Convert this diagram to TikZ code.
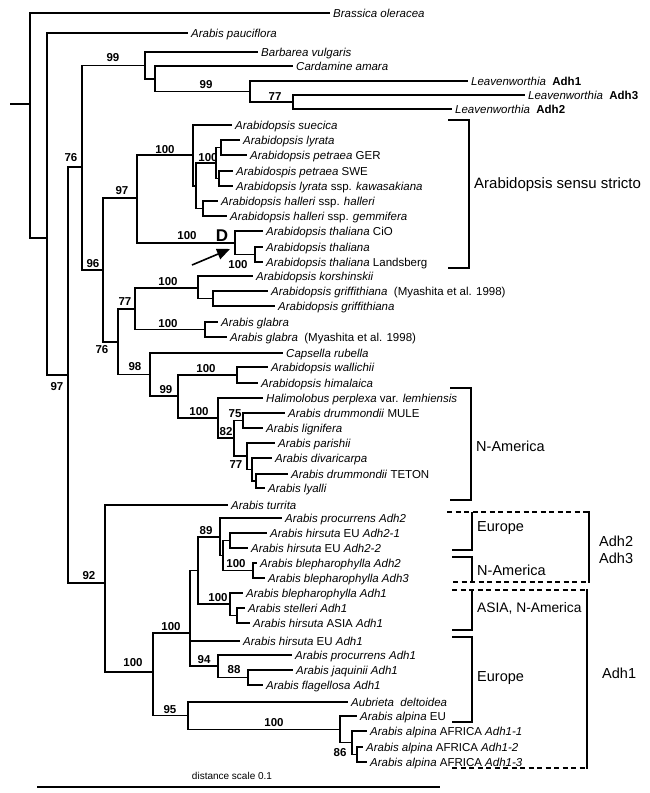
\documentclass[tikz,border=0pt]{standalone}
\usepackage{fontspec}
\setmainfont{Liberation Sans}
\usetikzlibrary{arrows.meta}
\tikzset{
    branch/.style={draw=black,line width=1.6pt},
    leaf/.style={anchor=west,inner xsep=3pt,inner ysep=0pt,text height=8.2pt,text depth=0pt,
        font=\fontsize{11.5}{12}\selectfont},
    boot/.style={inner sep=0pt,font=\fontsize{11.5}{12}\selectfont\bfseries},
    grp/.style={anchor=west,inner sep=0pt,align=left,font=\fontsize{14.5}{17}\selectfont},
    bracket/.style={draw=black,line width=1.7pt},
    dashbox/.style={draw=black,line width=1.7pt,dash pattern=on 5pt off 3.5pt},
    pointer/.style={-{Triangle[length=13pt,width=11pt]},line width=1.6pt}
}
\begin{document}
\begin{tikzpicture}[x=1pt,y=-1pt]
\useasboundingbox (0,0) rectangle (650,793);
% inner nodes of the tree
\coordinate (stub) at (10,104);
\coordinate (root) at (30,104);
\coordinate (npau) at (47,238);
\coordinate (n97a) at (68,375);
\coordinate (n76a) at (82,167);
\coordinate (n99a) at (145,65.5);
\coordinate (ncar) at (155,79);
\coordinate (n99b) at (250,91.5);
\coordinate (n77a) at (293,102);
\coordinate (n96) at (103,270);
\coordinate (n97b) at (137,198);
\coordinate (n100s) at (193,155);
\coordinate (nlh) at (196,186);
\coordinate (nlyr) at (216,163);
\coordinate (nlg) at (221,147.5);
\coordinate (nsk) at (219,178.5);
\coordinate (nhal) at (203,208.5);
\coordinate (nth) at (235,243);
\coordinate (nth2) at (255,254.5);
\coordinate (n76b) at (118,342);
\coordinate (n77b) at (135,309);
\coordinate (nkor) at (198,288);
\coordinate (ngri) at (213,298.5);
\coordinate (ngla) at (205,329.5);
\coordinate (n98) at (150,374.5);
\coordinate (n99c) at (178,396);
\coordinate (nwal) at (237,375);
\coordinate (nhp) at (218,418);
\coordinate (n82) at (234,438);
\coordinate (n75) at (243,420.5);
\coordinate (n77c) at (247,456);
\coordinate (ndiv) at (252,469.5);
\coordinate (ntet) at (256,481);
\coordinate (n92) at (105,583);
\coordinate (n100a) at (153,672);
\coordinate (n100b) at (190,633);
\coordinate (nadh2) at (198,570.5);
\coordinate (n89) at (220,537);
\coordinate (nhb) at (223,555.5);
\coordinate (nhir) at (230,540.5);
\coordinate (nble) at (253,570.5);
\coordinate (nasia) at (230,604);
\coordinate (nste) at (237,615.5);
\coordinate (n94) at (218,666);
\coordinate (n88) at (248,677.5);
\coordinate (n95) at (188,715.5);
\coordinate (nalp) at (340,729.5);
\coordinate (n86) at (352,742.5);
\coordinate (nafr) at (357,754.5);

% leaves
\node[leaf] (bo) at (330,13) {\textit{Brassica oleracea}};
\node[leaf] (ap) at (188,33) {\textit{Arabis pauciflora}};
\node[leaf] (bv) at (258,52) {\textit{Barbarea vulgaris}};
\node[leaf] (ca) at (293,66) {\textit{Cardamine amara}};
\node[leaf] (la1) at (468,81) {\textit{Leavenworthia}\ \ \textbf{Adh1}};
\node[leaf] (la3) at (525,95) {\textit{Leavenworthia}\ \ \textbf{Adh3}};
\node[leaf] (la2) at (452,109) {\textit{Leavenworthia}\ \ \textbf{Adh2}};
\node[leaf] (su) at (232,125) {\textit{Arabidopsis suecica}};
\node[leaf] (ly) at (240,140) {\textit{Arabidopsis lyrata}};
\node[leaf] (pg) at (247,155) {\textit{Arabidopsis petraea} GER};
\node[leaf] (ps) at (233,171) {\textit{Arabidospis petraea} SWE};
\node[leaf] (lk) at (233,186) {\textit{Arabidopsis lyrata} ssp. \textit{kawasakiana}};
\node[leaf] (hh) at (218,201) {\textit{Arabidopsis halleri} ssp. \textit{halleri}};
\node[leaf] (hg) at (227,216) {\textit{Arabidopsis halleri} ssp. \textit{gemmifera}};
\node[leaf] (tc) at (263,231) {\textit{Arabidopsis thaliana} CiO};
\node[leaf] (tt) at (263,247) {\textit{Arabidopsis thaliana}};
\node[leaf] (tl) at (263,262) {\textit{Arabidopsis thaliana} Landsberg};
\node[leaf] (ko) at (253,276) {\textit{Arabidopsis korshinskii}};
\node[leaf] (gm) at (268,291) {\textit{Arabidopsis griffithiana}\ \ (Myashita et al. 1998)};
\node[leaf] (gr) at (275,306) {\textit{Arabidopsis griffithiana}};
\node[leaf] (gl) at (218,322) {\textit{Arabis glabra}};
\node[leaf] (glm) at (227,337) {\textit{Arabis glabra}\ \ (Myashita et al. 1998)};
\node[leaf] (cr) at (283,353) {\textit{Capsella rubella}};
\node[leaf] (wa) at (268,367) {\textit{Arabidopsis wallichii}};
\node[leaf] (hi) at (258,383) {\textit{Arabidopsis himalaica}};
\node[leaf] (hp) at (263,398) {\textit{Halimolobus perplexa} var. \textit{lemhiensis}};
\node[leaf] (dm) at (285,413) {\textit{Arabis drummondii} MULE};
\node[leaf] (li) at (263,428) {\textit{Arabis lignifera}};
\node[leaf] (pa) at (275,443) {\textit{Arabis parishii}};
\node[leaf] (dv) at (272,458) {\textit{Arabis divaricarpa}};
\node[leaf] (dt) at (288,474) {\textit{Arabis drummondii} TETON};
\node[leaf] (lya) at (265,488) {\textit{Arabis lyalli}};
\node[leaf] (tu) at (228,505) {\textit{Arabis turrita}};
\node[leaf] (pr2) at (282,518) {\textit{Arabis procurrens Adh2}};
\node[leaf] (h21) at (267,533) {\textit{Arabis hirsuta} EU \textit{Adh2-1}};
\node[leaf] (h22) at (248,548) {\textit{Arabis hirsuta} EU \textit{Adh2-2}};
\node[leaf] (b2) at (257,563) {\textit{Arabis blepharophylla Adh2}};
\node[leaf] (b3) at (265,578) {\textit{Arabis blepharophylla Adh3}};
\node[leaf] (b1) at (243,593) {\textit{Arabis blepharophylla Adh1}};
\node[leaf] (st) at (245,608) {\textit{Arabis stelleri Adh1}};
\node[leaf] (ha) at (250,623) {\textit{Arabis hirsuta} ASIA \textit{Adh1}};
\node[leaf] (he) at (240,641) {\textit{Arabis hirsuta} EU \textit{Adh1}};
\node[leaf] (pr1) at (292,655) {\textit{Arabis procurrens Adh1}};
\node[leaf] (ja) at (293,670) {\textit{Arabis jaquinii Adh1}};
\node[leaf] (fl) at (263,685) {\textit{Arabis flagellosa Adh1}};
\node[leaf] (au) at (348,702) {\textit{Aubrieta\ \ deltoidea}};
\node[leaf] (ae) at (357,716) {\textit{Arabis alpina} EU};
\node[leaf] (af1) at (367,731) {\textit{Arabis alpina} AFRICA \textit{Adh1-1}};
\node[leaf] (af2) at (363,747) {\textit{Arabis alpina} AFRICA \textit{Adh1-2}};
\node[leaf] (af3) at (367,762) {\textit{Arabis alpina} AFRICA \textit{Adh1-3}};

% branches
\draw[branch] (stub) -- (root);
\foreach \a/\b in {root/npau,npau/n97a,n97a/n76a,n97a/n92,n76a/n99a,n76a/n96,n99a/ncar,
    ncar/n99b,n99b/n77a,n96/n97b,n96/n76b,n97b/n100s,n97b/nth,n100s/nlh,nlh/nlyr,nlh/nhal,
    nlyr/nlg,nlyr/nsk,nth/nth2,n76b/n77b,n76b/n98,n77b/nkor,n77b/ngla,nkor/ngri,n98/n99c,
    n99c/nwal,n99c/nhp,nhp/n82,n82/n75,n82/n77c,n77c/ndiv,ndiv/ntet,n92/n100a,n100a/n100b,
    n100a/n95,n100b/nadh2,n100b/n94,nadh2/n89,nadh2/nasia,n89/nhb,nhb/nhir,nhb/nble,
    nasia/nste,n94/n88,n95/nalp,nalp/n86,n86/nafr}
    \draw[branch] (\a) |- (\b);
\foreach \a/\b in {root/bo,npau/ap,n99a/bv,ncar/ca,n99b/la1,n77a/la3,n77a/la2,n100s/su,
    nlg/ly,nlg/pg,nsk/ps,nsk/lk,nhal/hh,nhal/hg,nth/tc,nth2/tt,nth2/tl,nkor/ko,ngri/gm,
    ngri/gr,ngla/gl,ngla/glm,n98/cr,nwal/wa,nwal/hi,nhp/hp,n75/dm,n75/li,n77c/pa,ndiv/dv,
    ntet/dt,ntet/lya,n92/tu,n89/pr2,nhir/h21,nhir/h22,nble/b2,nble/b3,nasia/b1,nste/st,
    nste/ha,n100b/he,n94/pr1,n88/ja,n88/fl,n95/au,nalp/ae,n86/af1,nafr/af2,nafr/af3}
    \draw[branch] (\a) |- (\b.west);

% bootstrap values
\node[boot] (bs99a) at (113,58) {99};
\node[boot] (bs99b) at (206,85) {99};
\node[boot] (bs77a) at (275,96.5) {77};
\node[boot] (bs76a) at (71,158) {76};
\node[boot] (bs96) at (93,263.5) {96};
\node[boot] (bs97b) at (122,191) {97};
\node[boot] (bs100s) at (165,150) {100};
\node[boot] (bs100l) at (208,158) {100};
\node[boot] (bs100t) at (187,236) {100};
\node[boot] (bs100u) at (238,265) {100};
\node[boot] (bs97a) at (57,387) {97};
\node[boot] (bs100k) at (168,282) {100};
\node[boot] (bs77b) at (125,302) {77};
\node[boot] (bs100g) at (168,324) {100};
\node[boot] (bs76b) at (102,350) {76};
\node[boot] (bs98) at (135,367) {98};
\node[boot] (bs99c) at (166,390) {99};
\node[boot] (bs100w) at (206,369) {100};
\node[boot] (bs100h) at (199,412) {100};
\node[boot] (bs75) at (235,414) {75};
\node[boot] (bs82) at (226,432) {82};
\node[boot] (bs77c) at (236,465) {77};
\node[boot] (bs92) at (89,576) {92};
\node[boot] (bs89) at (206,531) {89};
\node[boot] (bs100bl) at (236,564) {100};
\node[boot] (bs100as) at (218,598) {100};
\node[boot] (bs100b) at (171,627) {100};
\node[boot] (bs100a) at (133,663) {100};
\node[boot] (bs94) at (204,660) {94};
\node[boot] (bs88) at (234,670) {88};
\node[boot] (bs95) at (170,710) {95};
\node[boot] (bs100al) at (274,723) {100};
\node[boot] (bs86) at (340,753) {86};
\node[boot,font=\fontsize{17}{18}\selectfont\bfseries] (dup) at (222,236) {D};

% arrow to the thaliana clade
\coordinate (arrtail) at (192,265);
\coordinate (arrtip) at (230,249);
\draw[pointer] (arrtail) -- (arrtip);

% groups
\draw[bracket] (448,120) -- (469,120) -- (469,268) -- (448,268);
\node[grp,font=\fontsize{15}{17}\selectfont] (sensu) at (474,185) {Arabidopsis sensu stricto};
\draw[bracket] (450,388) -- (471,388) -- (471,500) -- (450,500);
\node[grp] (nam1) at (476,446) {N-America};

\draw[dashbox] (447,512) -- (589,512);
\draw[dashbox] (453,582) -- (589,582);
\draw[bracket] (589,511.2) -- (589,582.8);
\draw[bracket] (472,512) -- (472,550) -- (452,550);
\draw[bracket] (452,557) -- (472,557) -- (472,582);
\node[grp] (eur1) at (477,528) {Europe};
\node[grp] (nam2) at (477,570) {N-America};
\node[grp] (adh23) at (599,550) {Adh2\\Adh3};

\draw[dashbox] (452,590) -- (587,590);
\draw[dashbox] (452,768) -- (587,768);
\draw[bracket] (587,589.2) -- (587,768.8);
\draw[bracket] (472,590) -- (472,630) -- (452,630);
\draw[bracket] (452,637) -- (472,637) -- (472,722) -- (452,722);
\node[grp,font=\fontsize{13.8}{16}\selectfont] (asia) at (477,608) {ASIA, N-America};
\node[grp] (eur2) at (477,678) {Europe};
\node[grp] (adh1) at (602,673) {Adh1};

% scale
\coordinate (scl) at (37,787);
\coordinate (scr) at (440,787);
\draw[line width=1.7pt] (scl) -- (scr);
\node[inner sep=0pt,font=\fontsize{10}{12}\selectfont] (scaletxt) at (232,776) {distance scale 0.1};
\end{tikzpicture}
\end{document}
